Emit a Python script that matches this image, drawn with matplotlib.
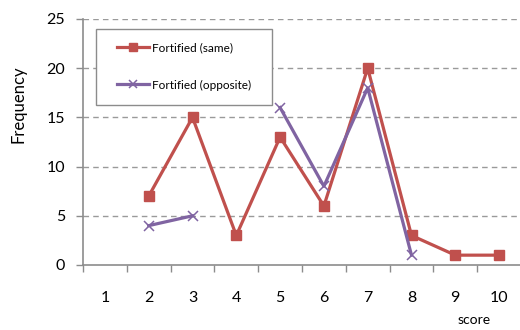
import numpy as np
import matplotlib
matplotlib.use("Agg")
import matplotlib.pyplot as plt
from matplotlib.patches import Rectangle

plt.rcParams["font.family"] = ["Lato", "DejaVu Sans"]

scores = [1, 2, 3, 4, 5, 6, 7, 8, 9, 10]
same = [np.nan, 7, 15, 3, 13, 6, 20, 3, 1, 1]
opposite = [np.nan, 4, 5, np.nan, 16, 8, 18, 1, np.nan, np.nan]
yticks = [0, 5, 10, 15, 20, 25]

red = "#C0504D"
purple = "#8064A2"
axis_grey = "#8C8C8C"

fig = plt.figure(figsize=(5.2, 3.3), dpi=100)
ax = fig.add_axes([83 / 520, 1 - 265 / 330, 438 / 520, 246 / 330])

ax.plot(scores, same, "-s", color=red, lw=2.3, ms=6.5, label="Fortified (same)", zorder=3)
ax.plot(scores, opposite, "-x", color=purple, lw=2.3, ms=7, mew=1.1,
        label="Fortified (opposite)", zorder=4)

ax.set_xlim(0.5, 10.5)
ax.set_ylim(0, 25)
ax.set_yticks(yticks)
ax.set_xticks(scores)
ax.set_xticks(np.arange(0.5, 11, 1), minor=True)
ax.tick_params(axis="x", which="major", length=0, pad=19, labelsize=11.5)
ax.tick_params(axis="x", which="minor", length=5, width=1, color=axis_grey, direction="out")
ax.tick_params(axis="y", length=5, width=1, color=axis_grey, pad=8, labelsize=11.5)

for y in yticks[1:]:
    ax.axhline(y, color="#9A9A9A", lw=1, ls=(0, (4, 3)), zorder=1)

for side in ("top", "right"):
    ax.spines[side].set_visible(False)
for side in ("left", "bottom"):
    ax.spines[side].set_color(axis_grey)
    ax.spines[side].set_linewidth(1.2)

# legend box drawn separately so its size can be fixed
ax.add_patch(Rectangle(((96 - 83) / 438, (265 - 105) / 246), 176 / 438, 76 / 246,
                       transform=ax.transAxes, fill=True, facecolor="white",
                       edgecolor="#8C8C8C", lw=1, zorder=5))
ax.legend(loc="center", bbox_to_anchor=((184 - 83) / 438, (265 - 66.5) / 246),
          frameon=False, fontsize=8.5, handlelength=2.7, handletextpad=0.25,
          labelspacing=2.2, markerscale=0.8).set_zorder(6)

fig.text(18 / 520, 1 - 104 / 330, "Frequency", rotation=90, ha="center", va="center", fontsize=12)
fig.text(474 / 520, 1 - 320 / 330, "score", ha="center", va="center", fontsize=10)

fig.savefig("out.png", dpi=100)
